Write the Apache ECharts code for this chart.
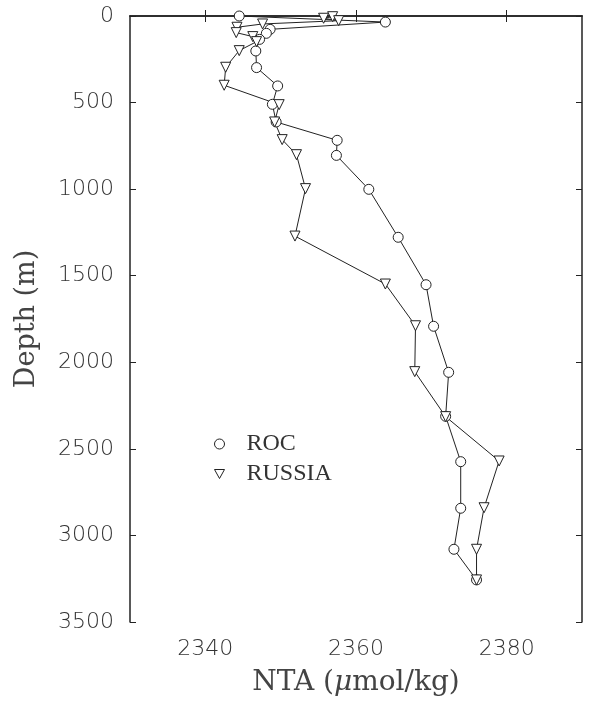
<!DOCTYPE html>
<html>
<head>
<meta charset="utf-8">
<script src="https://cdn.jsdelivr.net/npm/echarts@6/dist/echarts.min.js"></script>
<style>
html, body { margin: 0; padding: 0; background: #fff; }
#chart { width: 591px; height: 707px; }
</style>
</head>
<body>
<div id="chart"></div>
<script>
// ROC profile
const rocDepth = [0, 35, 77, 100, 135, 202, 298, 404, 510, 612, 718, 805, 1001, 1278, 1552, 1792, 2058, 2312, 2574, 2843, 3080, 3257]
const rocNta = [2344.5, 2363.9, 2348.6, 2348.1, 2347.2, 2346.7, 2346.8, 2349.6, 2348.9, 2349.4, 2357.5, 2357.4, 2361.7, 2365.6, 2369.3, 2370.3, 2372.3, 2371.9, 2373.9, 2373.9, 2373.0, 2376.0]
// RUSSIA profile
const rusDepth = [4, 13, 27, 46, 65, 96, 119, 148, 200, 296, 400, 512, 612, 714, 801, 997, 1271, 1548, 1789, 2054, 2314, 2570, 2840, 3080, 3257]
const rusNta = [2356.9, 2355.7, 2357.7, 2347.6, 2344.2, 2344.1, 2346.3, 2346.8, 2344.5, 2342.7, 2342.5, 2349.8, 2349.2, 2350.2, 2352.1, 2353.3, 2351.9, 2363.9, 2367.9, 2367.8, 2371.9, 2379.0, 2377.0, 2376.0, 2376.0]
const xTicks = [2340, 2360, 2380]

const ink = '#222'
const tickFont = { fontFamily: 'DejaVu Sans', fontWeight: 200, fontSize: 22, color: '#333', formatter: (v) => String(v) }

function pairs(xs, ys) {
	return xs.map((x, i) => [x, ys[i]])
}

function makeSeries(name, symbol, rotate, xs, ys) {
	return {
		name: name,
		type: 'line',
		symbol: symbol,
		symbolRotate: rotate,
		symbolSize: 10,
		showSymbol: true,
		lineStyle: { color: ink, width: 1 },
		itemStyle: { color: '#fff', borderColor: ink, borderWidth: 1 },
		data: pairs(xs, ys),
		z: 3,
	}
}

let myChart = echarts.init(document.getElementById('chart'))
myChart.setOption({
	animation: false,
	backgroundColor: '#fff',
	grid: { left: 130, top: 16, right: 9, bottom: 85 },
	legend: {
		orient: 'vertical',
		left: 209,
		top: 427,
		itemWidth: 10,
		itemHeight: 10,
		itemGap: 6,
		textStyle: { fontFamily: 'Liberation Serif', fontSize: 24, color: '#333', padding: [0, 0, 0, 17] },
		data: [
			{ name: 'ROC', icon: 'circle', itemStyle: { color: '#fff', borderColor: ink, borderWidth: 1 } },
			{ name: 'RUSSIA', icon: 'path://M0,0 L10,0 L5,9 Z', itemStyle: { color: '#fff', borderColor: ink, borderWidth: 1 } },
		],
	},
	xAxis: [
		{
			type: 'value',
			position: 'bottom',
			min: 2330,
			max: 2390,
			name: 'NTA ({i|μ}mol/kg)',
			nameLocation: 'middle',
			nameGap: 47,
			nameTextStyle: {
				fontFamily: 'DejaVu Serif', fontSize: 28, color: '#444',
				rich: { i: { fontFamily: 'DejaVu Serif', fontStyle: 'italic', fontSize: 28, color: '#444' } },
			},
			axisLine: { lineStyle: { color: ink, width: 1.5 } },
			axisTick: { inside: true, length: 6, customValues: xTicks, lineStyle: { color: ink } },
			axisLabel: { customValues: xTicks, margin: 16, ...tickFont },
			splitLine: { show: false },
		},
		{
			type: 'value',
			position: 'top',
			min: 2330,
			max: 2390,
			axisLine: { lineStyle: { color: ink, width: 1.5 } },
			axisTick: { inside: true, length: 6, customValues: xTicks, lineStyle: { color: ink } },
			axisLabel: { show: false },
			splitLine: { show: false },
		},
	],
	yAxis: [
		{
			type: 'value',
			position: 'left',
			inverse: true,
			min: 0,
			max: 3500,
			interval: 500,
			name: 'Depth (m)',
			nameLocation: 'middle',
			nameGap: 90,
			nameTextStyle: { fontFamily: 'DejaVu Serif', fontSize: 27, color: '#444' },
			axisLine: { lineStyle: { color: ink, width: 1.5 } },
			axisTick: { inside: true, length: 6, lineStyle: { color: ink } },
			axisLabel: { margin: 16, ...tickFont },
			splitLine: { show: false },
		},
		{
			type: 'value',
			position: 'right',
			inverse: true,
			min: 0,
			max: 3500,
			interval: 500,
			axisLine: { lineStyle: { color: ink, width: 1.5 } },
			axisTick: { inside: true, length: 6, lineStyle: { color: ink } },
			axisLabel: { show: false },
			splitLine: { show: false },
		},
	],
	series: [
		makeSeries('ROC', 'circle', 0, rocNta, rocDepth),
		makeSeries('RUSSIA', 'triangle', 180, rusNta, rusDepth),
	],
})
</script>
</body>
</html>
